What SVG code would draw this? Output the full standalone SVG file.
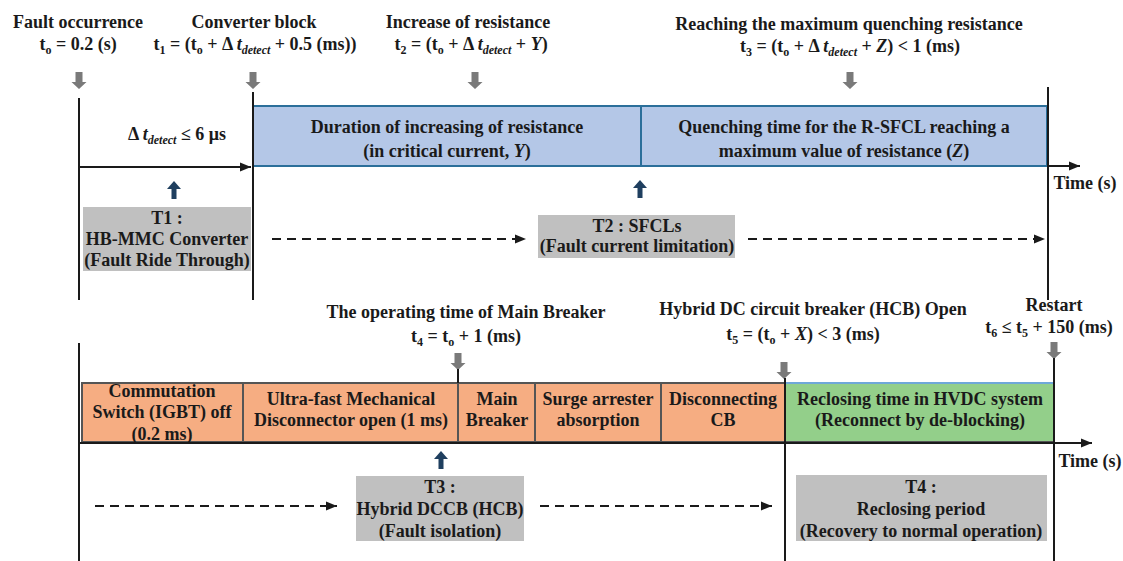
<svg xmlns="http://www.w3.org/2000/svg" width="1123" height="561" viewBox="0 0 1123 561">
<defs>
<style>
.t{font-family:"Liberation Serif","Times New Roman",serif;font-weight:bold;font-size:18px;fill:#1a1a1a;text-anchor:middle}
.s{font-size:12px}
.i{font-style:italic}
.ln{stroke:#1a1a1a;stroke-width:2;fill:none}
.dash{stroke:#1a1a1a;stroke-width:2;fill:none;stroke-dasharray:9 6}
.gbox{fill:#c0c0c0}
.blue{fill:#b4c7e7;stroke:#2b6f9a;stroke-width:2}
.org{fill:#f6ad82;stroke:#555;stroke-width:2}
.grn{fill:#93cf8a;stroke:#555;stroke-width:2}
.dn{fill:#7a7a7a}
.up{fill:#1f3f5f}
</style>
<marker id="ah" markerUnits="userSpaceOnUse" markerWidth="12" markerHeight="12" refX="11" refY="6" orient="auto">
<path d="M0,1.5 L11,6 L0,10.5 Z" fill="#1a1a1a"/>
</marker>
<path id="down" d="M-3.5,0 H3.5 V10 H7.5 L0,17 L-7.5,10 H-3.5 Z"/>
<path id="upa" d="M0,0 L7,8 H2.5 V18 H-2.5 V8 H-7 Z"/>
</defs>

<!-- top labels -->
<g id="lbl-t0">
<text class="t" x="78" y="28">Fault occurrence</text>
<text class="t" x="78" y="50">t<tspan class="s" dy="4">o</tspan><tspan dy="-4"> = 0.2 (s)</tspan></text>
<use href="#down" class="dn" x="79" y="72"/>
</g>
<g id="lbl-t1">
<text class="t" x="254" y="28">Converter block</text>
<text class="t" x="255" y="50">t<tspan class="s" dy="4">1</tspan><tspan dy="-4"> = (t</tspan><tspan class="s" dy="4">o</tspan><tspan dy="-4"> + Δ </tspan><tspan class="i">t</tspan><tspan class="s i" dy="4">detect</tspan><tspan dy="-4"> + 0.5 (ms))</tspan></text>
<use href="#down" class="dn" x="253" y="72"/>
</g>
<g id="lbl-t2">
<text class="t" x="468" y="28">Increase of resistance</text>
<text class="t" x="471" y="50">t<tspan class="s" dy="4">2</tspan><tspan dy="-4"> = (t</tspan><tspan class="s" dy="4">o</tspan><tspan dy="-4"> + Δ </tspan><tspan class="i">t</tspan><tspan class="s i" dy="4">detect</tspan><tspan dy="-4"> + </tspan><tspan class="i">Y</tspan>)</text>
<use href="#down" class="dn" x="475" y="72"/>
</g>
<g id="lbl-t3">
<text class="t" x="849" y="30">Reaching the maximum quenching resistance</text>
<text class="t" x="850" y="52">t<tspan class="s" dy="4">3</tspan><tspan dy="-4"> = (t</tspan><tspan class="s" dy="4">o</tspan><tspan dy="-4"> + Δ </tspan><tspan class="i">t</tspan><tspan class="s i" dy="4">detect</tspan><tspan dy="-4"> + </tspan><tspan class="i">Z</tspan>) &lt; 1 (ms)</text>
<use href="#down" class="dn" x="850" y="72"/>
</g>

<!-- blue boxes -->
<g id="blue-Y">
<rect class="blue" x="253" y="106" width="388" height="60"/>
<text class="t" x="447" y="133">Duration of increasing of resistance</text>
<text class="t" x="447" y="157">(in critical current, <tspan class="i">Y</tspan>)</text>
</g>
<g id="blue-Z">
<rect class="blue" x="641" y="106" width="406" height="60"/>
<text class="t" x="844" y="133">Quenching time for the R-SFCL reaching a</text>
<text class="t" x="844" y="157">maximum value of resistance (<tspan class="i">Z</tspan>)</text>
</g>

<g id="detect-label">
<text class="t" x="177" y="140">Δ <tspan class="i">t</tspan><tspan class="s i" dy="4">detect</tspan><tspan dy="-4"> ≤ 6 μs</tspan></text>
</g>
<text class="t" x="1085" y="189">Time (s)</text>

<g id="T1">
<rect class="gbox" x="83" y="207" width="168" height="64"/>
<text class="t" x="167" y="224">T1 :</text>
<text class="t" x="167" y="245">HB-MMC Converter</text>
<text class="t" x="167" y="266">(Fault Ride Through)</text>
</g>
<g id="T2">
<rect class="gbox" x="538" y="215" width="197" height="43"/>
<text class="t" x="637" y="232">T2 : SFCLs</text>
<text class="t" x="637" y="252">(Fault current limitation)</text>
</g>

<!-- lower labels -->
<g id="lbl-t4">
<text class="t" x="466" y="318">The operating time of Main Breaker</text>
<text class="t" x="466" y="342">t<tspan class="s" dy="4">4</tspan><tspan dy="-4"> =  t</tspan><tspan class="s" dy="4">o</tspan><tspan dy="-4"> + 1 (ms)</tspan></text>
<use href="#down" class="dn" x="458" y="353"/>
</g>
<g id="lbl-t5">
<text class="t" x="813" y="315">Hybrid DC circuit breaker (HCB) Open</text>
<text class="t" x="803" y="340">t<tspan class="s" dy="4">5</tspan><tspan dy="-4"> = (t</tspan><tspan class="s" dy="4">o</tspan><tspan dy="-4"> + </tspan><tspan class="i">X</tspan>) &lt; 3 (ms)</text>
<use href="#down" class="dn" x="784" y="362"/>
</g>
<g id="lbl-t6">
<text class="t" x="1054" y="311">Restart</text>
<text class="t" x="1049" y="333">t<tspan class="s" dy="4">6</tspan><tspan dy="-4"> ≤ t</tspan><tspan class="s" dy="4">5</tspan><tspan dy="-4"> + 150 (ms)</tspan></text>
<use href="#down" class="dn" x="1054" y="342"/>
</g>

<g id="seg-commutation">
<rect class="org" x="82" y="383" width="161" height="59"/>
<text class="t" x="162" y="397">Commutation</text>
<text class="t" x="162" y="418">Switch (IGBT) off</text>
<text class="t" x="162" y="440">(0.2 ms)</text>
</g>
<g id="seg-umd">
<rect class="org" x="243" y="383" width="215" height="59"/>
<text class="t" x="351" y="405">Ultra-fast Mechanical</text>
<text class="t" x="351" y="426">Disconnector open (1 ms)</text>
</g>
<g id="seg-mb">
<rect class="org" x="458" y="383" width="77" height="59"/>
<text class="t" x="497" y="405">Main</text>
<text class="t" x="497" y="426">Breaker</text>
</g>
<g id="seg-surge">
<rect class="org" x="535" y="383" width="126" height="59"/>
<text class="t" x="598" y="405">Surge arrester</text>
<text class="t" x="598" y="426">absorption</text>
</g>
<g id="seg-disc">
<rect class="org" x="661" y="383" width="124" height="59"/>
<text class="t" x="723" y="405">Disconnecting</text>
<text class="t" x="723" y="426">CB</text>
</g>
<g id="seg-reclose">
<rect class="grn" x="785" y="383" width="269" height="59"/>
<line x1="785" y1="383" x2="1054" y2="383" stroke="#6fa8d8" stroke-width="2"/>
<text class="t" x="920" y="405">Reclosing time in HVDC system</text>
<text class="t" x="920" y="426">(Reconnect by de-blocking)</text>
</g>

<text class="t" x="1090" y="467">Time (s)</text>

<g id="T3">
<rect class="gbox" x="356" y="476" width="168" height="65"/>
<text class="t" x="440" y="493">T3 :</text>
<text class="t" x="440" y="515">Hybrid DCCB (HCB)</text>
<text class="t" x="440" y="537">(Fault isolation)</text>
</g>
<g id="T4">
<rect class="gbox" x="796" y="475" width="251" height="66"/>
<text class="t" x="921" y="493">T4 :</text>
<text class="t" x="921" y="515">Reclosing period</text>
<text class="t" x="921" y="537">(Recovery to normal operation)</text>
</g>

<!-- connectors -->
<g id="connectors">
<line class="ln" x1="79" y1="98" x2="79" y2="300"/>
<line class="ln" x1="253" y1="92" x2="253" y2="300"/>
<line class="ln" x1="1048" y1="87" x2="1048" y2="300"/>
<line class="ln" x1="79" y1="167" x2="251" y2="167" marker-end="url(#ah)" stroke-width="1.5"/>
<line class="ln" x1="1048" y1="166" x2="1080" y2="166" marker-end="url(#ah)" stroke-width="1.5"/>
<line class="dash" x1="272" y1="239" x2="526" y2="239" marker-end="url(#ah)"/>
<line class="dash" x1="748" y1="239" x2="1045" y2="239" marker-end="url(#ah)"/>
<use href="#upa" class="up" x="174" y="181"/>
<use href="#upa" class="up" x="640" y="180"/>

<line class="ln" x1="79" y1="343" x2="79" y2="561"/>
<line class="ln" x1="458" y1="369" x2="458" y2="383"/>
<line class="ln" x1="785" y1="378" x2="785" y2="561"/>
<line class="ln" x1="1054" y1="358" x2="1054" y2="561"/>
<line class="ln" x1="79" y1="443" x2="1092" y2="443" marker-end="url(#ah)" stroke-width="1.5"/>
<line class="dash" x1="95" y1="506" x2="337" y2="506" marker-end="url(#ah)"/>
<line class="dash" x1="540" y1="506" x2="772" y2="506" marker-end="url(#ah)"/>
<use href="#upa" class="up" x="441" y="451"/>
</g>
</svg>
